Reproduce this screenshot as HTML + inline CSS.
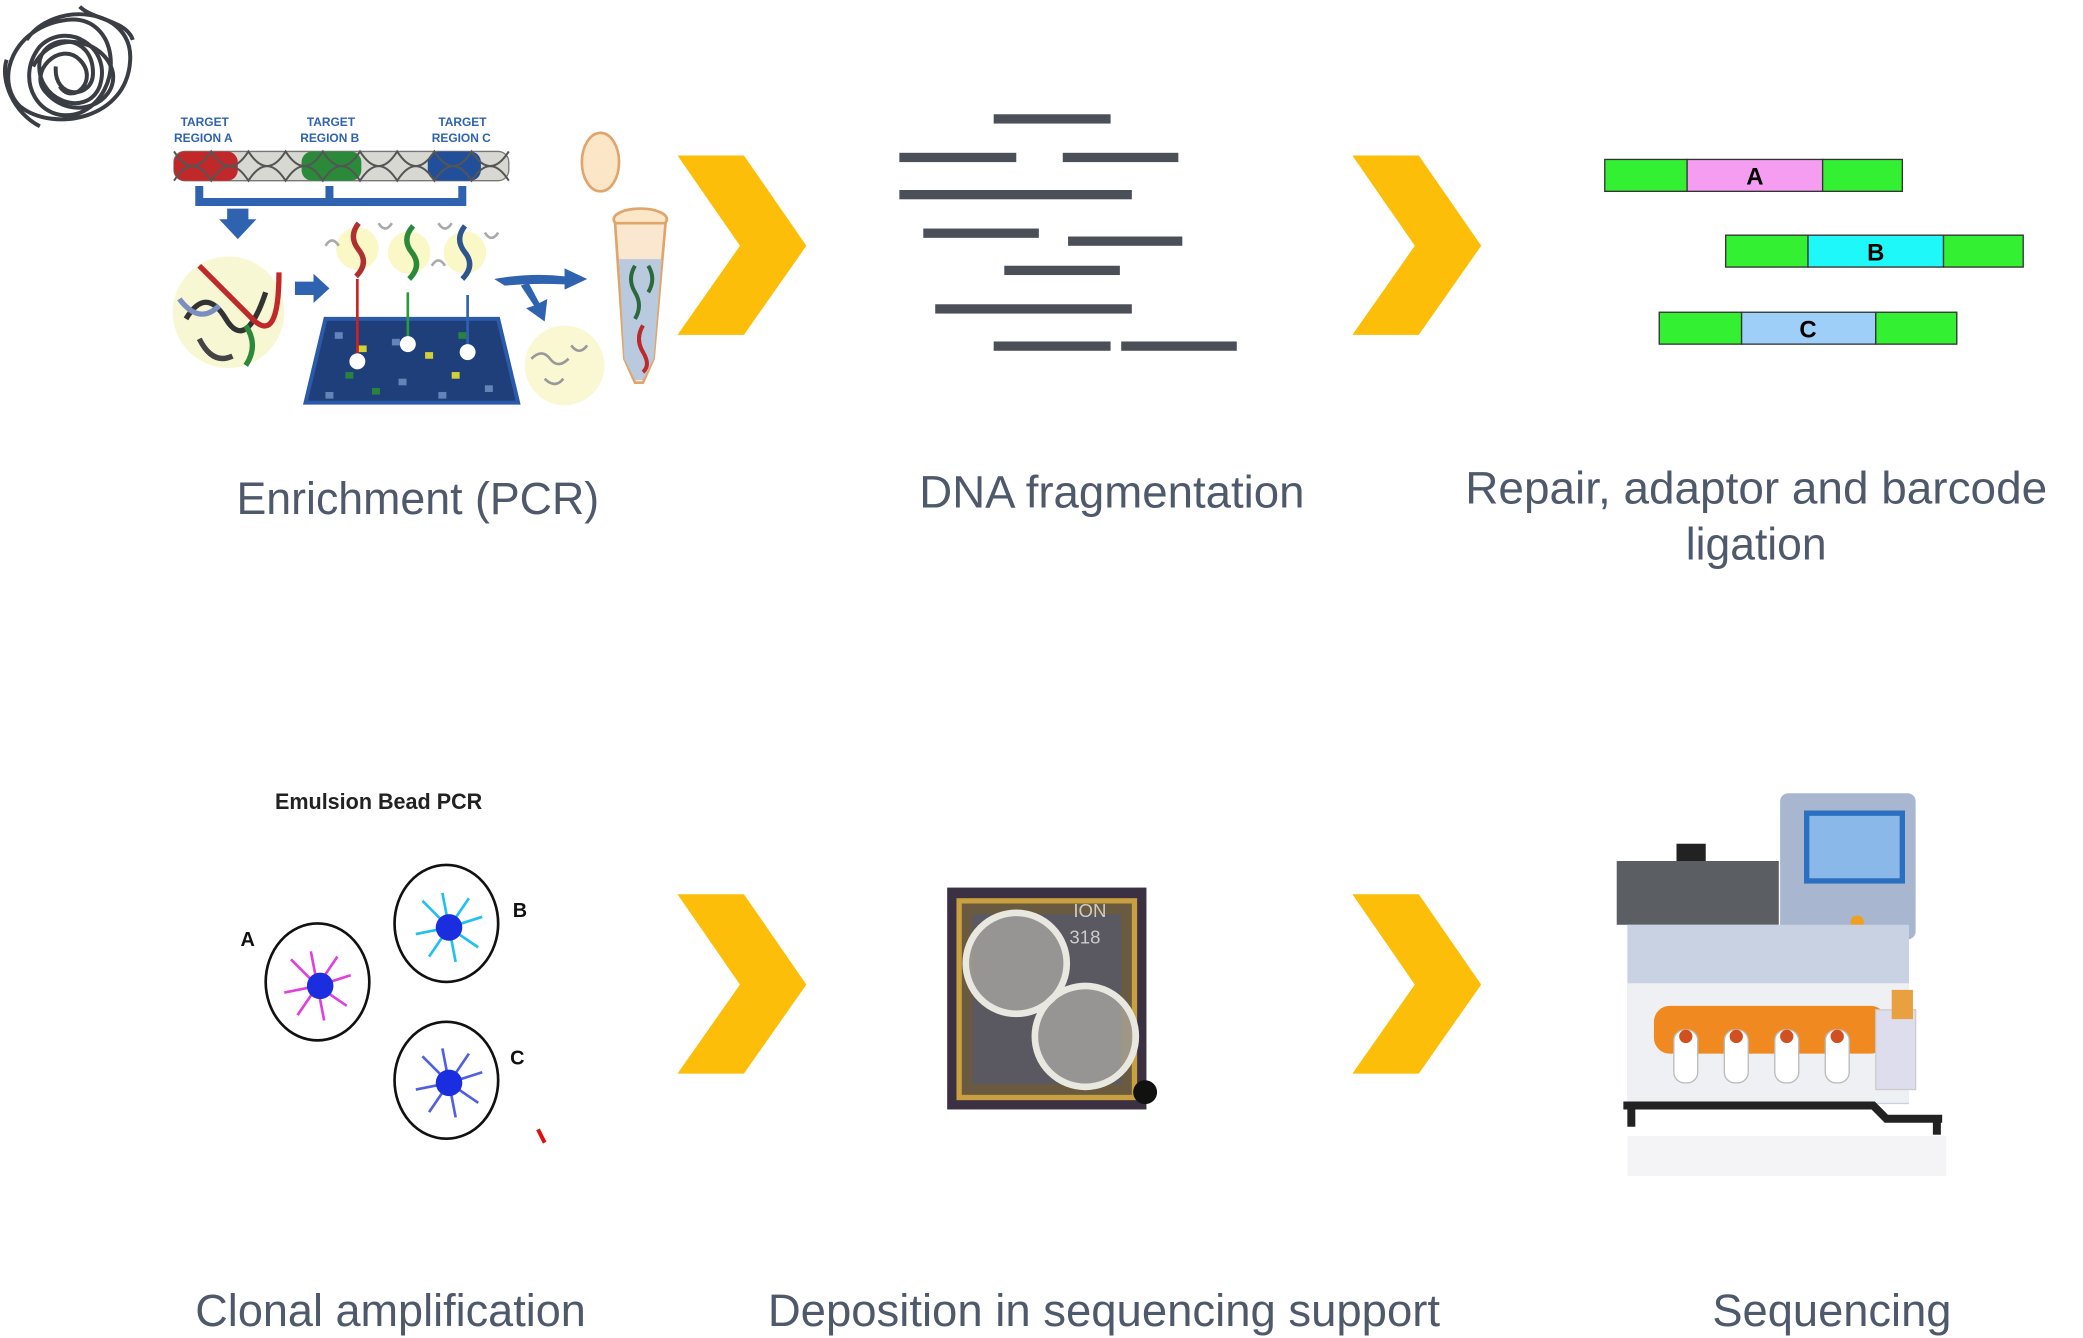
<!DOCTYPE html>
<html><head><meta charset="utf-8"><style>
html,body{margin:0;padding:0;background:#fff;}
svg{display:block;}
text{font-family:"Liberation Sans",sans-serif;}
</style></head><body>
<svg width="2083" height="1338" viewBox="0 0 1568 1007" preserveAspectRatio="none" xmlns="http://www.w3.org/2000/svg">
<rect width="1568" height="1008" fill="#fff"/>
<!-- scribble -->
<g fill="none" stroke="#3a3d44" stroke-width="3">
<path d="M20,30 C40,0 100,5 98,45 C96,90 40,100 15,80 C-5,60 10,20 50,15 C90,10 95,70 60,85 C30,95 10,60 30,35 C50,15 85,35 75,65 C65,90 25,75 30,45 C35,25 70,25 70,55 C70,75 40,75 42,50"/>
<path d="M25,50 C40,20 80,30 85,55 C88,78 55,92 35,70 C20,55 45,30 60,45 C75,60 55,80 45,65"/>
<path d="M60,5 C70,15 95,15 100,30 M5,45 C0,60 10,85 30,95"/>
</g>
<!-- PCR illustration -->
<g font-family="Liberation Sans" font-weight="bold" font-size="9" fill="#2f63b0">
<text x="136" y="95">TARGET</text><text x="131" y="107">REGION A</text>
<text x="231" y="95">TARGET</text><text x="226" y="107">REGION B</text>
<text x="330" y="95">TARGET</text><text x="325" y="107">REGION C</text>
</g>
<rect x="131" y="114" width="252" height="22" rx="8" fill="#d8d8d2" stroke="#777" stroke-width="1"/>
<rect x="131" y="114" width="48" height="22" rx="8" fill="#c0282a"/>
<rect x="227" y="114" width="45" height="22" rx="8" fill="#2a8a3a"/>
<rect x="322" y="114" width="40" height="22" rx="8" fill="#224f9a"/>
<g stroke="#555" stroke-width="1.5" fill="none">
<path d="M131,114 Q145,136 159,114 Q173,136 187,114 Q201,136 215,114 Q229,136 243,114 Q257,136 271,114 Q285,136 299,114 Q313,136 327,114 Q341,136 355,114 Q369,136 383,114"/>
<path d="M131,136 Q145,114 159,136 Q173,114 187,136 Q201,114 215,136 Q229,114 243,136 Q257,114 271,136 Q285,114 299,136 Q313,114 327,136 Q341,114 355,136 Q369,114 383,136"/>
</g>
<path d="M150,140 L150,152 L348,152 L348,140 M248,140 L248,152" fill="none" stroke="#2f63b0" stroke-width="6"/>
<path d="M171,157 L171,165 L165,165 L179,180 L193,165 L187,165 L187,157 Z" fill="#2f63b0"/>
<circle cx="172" cy="235" r="42" fill="#f6f5c8" opacity="0.8"/>
<g fill="none" stroke-width="4">
<path d="M140,240 Q155,215 170,240 T200,220" stroke="#333"/>
<path d="M150,200 Q170,220 190,240 T210,205" stroke="#c0282a"/>
<path d="M135,225 Q150,245 165,230" stroke="#7a8fbf"/>
<path d="M185,245 Q195,260 185,275" stroke="#2a8a3a"/>
<path d="M150,255 Q160,275 175,268" stroke="#444"/>
</g>
<path d="M222,212 L236,212 L236,206 L248,217 L236,228 L236,222 L222,222 Z" fill="#2f63b0"/>
<circle cx="269" cy="187" r="16" fill="#fbf8c8"/><circle cx="308" cy="190" r="16" fill="#fbf8c8"/><circle cx="350" cy="190" r="16" fill="#fbf8c8"/>
<g fill="none" stroke-width="4">
<path d="M270,168 Q262,178 270,188 Q278,198 268,208" stroke="#b03030"/>
<path d="M311,170 Q302,180 310,190 Q318,200 308,210" stroke="#2a8a3a"/>
<path d="M350,170 Q342,180 350,190 Q358,200 348,210" stroke="#2f5590"/>
</g>
<g fill="none" stroke="#aaa" stroke-width="2">
<path d="M245,185 q5,-8 10,0 M285,168 q5,8 10,0 M325,200 q5,-8 10,0 M365,175 q5,8 10,0 M330,168 q5,8 10,0"/>
</g>
<path d="M245,240 L375,240 L390,303 L230,303 Z" fill="#1e3f7a" stroke="#2a5aa8" stroke-width="3"/>
<g fill="#6a8cc0" opacity="0.9">
<rect x="252" y="250" width="6" height="5"/><rect x="270" y="260" width="6" height="5" fill="#e8e030"/><rect x="295" y="255" width="6" height="5"/><rect x="320" y="265" width="6" height="5" fill="#e8e030"/><rect x="345" y="250" width="6" height="5" fill="#2a8a3a"/><rect x="260" y="280" width="6" height="5" fill="#2a8a3a"/><rect x="300" y="285" width="6" height="5"/><rect x="340" y="280" width="6" height="5" fill="#e8e030"/><rect x="365" y="290" width="6" height="5"/><rect x="280" y="292" width="6" height="5" fill="#2a8a3a"/><rect x="245" y="295" width="6" height="5"/><rect x="330" y="295" width="6" height="5"/>
</g>
<line x1="269" y1="210" x2="269" y2="275" stroke="#d02020" stroke-width="2"/>
<line x1="307" y1="220" x2="307" y2="262" stroke="#2a9a3a" stroke-width="2"/>
<line x1="352" y1="222" x2="352" y2="266" stroke="#2f63b0" stroke-width="2"/>
<circle cx="269" cy="272" r="6" fill="#fff"/><circle cx="307" cy="259" r="6" fill="#fff"/><circle cx="352" cy="265" r="6" fill="#fff"/>
<path d="M372,210 Q400,205 425,208 L425,202 L442,210 L425,218 L425,214 Q400,213 380,215 Z" fill="#2f63b0"/>
<path d="M392,215 L402,230 L396,232 L410,242 L412,225 L406,228 L398,213 Z" fill="#2f63b0"/>
<circle cx="425" cy="275" r="30" fill="#f8f6c8" opacity="0.8"/>
<path d="M400,270 q8,-8 14,0 t14,0 M410,285 q8,8 14,0 M430,260 q6,8 12,0" fill="none" stroke="#999" stroke-width="2"/>
<!-- tube -->
<ellipse cx="452" cy="122" rx="14" ry="22" fill="#fbe6c8" stroke="#e0a56a" stroke-width="2"/>
<ellipse cx="482" cy="165" rx="20" ry="8" fill="#fbe6c8" stroke="#e0a56a" stroke-width="2"/>
<path d="M463,168 L501,168 L492,270 L484,288 L478,288 L470,270 Z" fill="#fbe6cf" stroke="#e0a56a" stroke-width="2"/>
<path d="M466,195 L498,195 L492,270 L484,286 L478,286 L470,270 Z" fill="#b9c9de"/>
<path d="M478,200 q-6,10 0,20 t0,20 M488,200 q6,10 0,20 M484,245 q-6,10 0,20" fill="none" stroke="#2a6a3a" stroke-width="3"/>
<path d="M484,245 q-6,10 0,20 t0,15" fill="none" stroke="#c0282a" stroke-width="3"/>
<!-- chevrons -->
<g fill="#fdbe0a">
<polygon points="510,117 560,117 607,185 560,252 510,252 557,185"/>
<polygon points="1018,117 1068,117 1115,185 1068,252 1018,252 1065,185"/>
<polygon points="510,673 560,673 607,741 560,808 510,808 557,741"/>
<polygon points="1018,673 1068,673 1115,741 1068,808 1018,808 1065,741"/>
</g>
<!-- fragments -->
<g fill="#4b4f57">
<rect x="748" y="86" width="88" height="7"/>
<rect x="677" y="115" width="88" height="7"/><rect x="800" y="115" width="87" height="7"/>
<rect x="677" y="143" width="175" height="7"/>
<rect x="695" y="172" width="87" height="7"/><rect x="804" y="178" width="86" height="7"/>
<rect x="756" y="200" width="87" height="7"/>
<rect x="704" y="229" width="148" height="7"/>
<rect x="748" y="257" width="88" height="7"/><rect x="844" y="257" width="87" height="7"/>
</g>
<!-- adaptor bars -->
<g stroke="#333" stroke-width="1">
<rect x="1208" y="120" width="62" height="24" fill="#33f033"/><rect x="1270" y="120" width="102" height="24" fill="#f59df0"/><rect x="1372" y="120" width="60" height="24" fill="#33f033"/>
<rect x="1299" y="177" width="62" height="24" fill="#33f033"/><rect x="1361" y="177" width="102" height="24" fill="#1ff8f8"/><rect x="1463" y="177" width="60" height="24" fill="#33f033"/>
<rect x="1249" y="235" width="62" height="24" fill="#33f033"/><rect x="1311" y="235" width="101" height="24" fill="#9dcff8"/><rect x="1412" y="235" width="61" height="24" fill="#33f033"/>
</g>
<g font-size="18" font-weight="bold" fill="#000" text-anchor="middle">
<text x="1321" y="139">A</text><text x="1412" y="196">B</text><text x="1361" y="254">C</text>
</g>
<!-- labels -->
<g fill="#4e5a6b" font-size="34">
<text x="178" y="387" textLength="273" lengthAdjust="spacingAndGlyphs">Enrichment (PCR)</text>
<text x="692" y="382" textLength="290" lengthAdjust="spacingAndGlyphs">DNA fragmentation</text>
<text x="1103" y="379" textLength="438" lengthAdjust="spacingAndGlyphs">Repair, adaptor and barcode</text>
<text x="1269" y="421" textLength="106" lengthAdjust="spacingAndGlyphs">ligation</text>
<text x="147" y="998" textLength="294" lengthAdjust="spacingAndGlyphs">Clonal amplification</text>
<text x="578" y="998" textLength="506" lengthAdjust="spacingAndGlyphs">Deposition in sequencing support</text>
<text x="1289" y="998" textLength="180" lengthAdjust="spacingAndGlyphs">Sequencing</text>
</g>
<!-- emulsion -->
<text x="207" y="609" font-size="17" font-weight="bold" fill="#222" textLength="156" lengthAdjust="spacingAndGlyphs">Emulsion Bead PCR</text>
<g stroke="#111" stroke-width="2" fill="#fff">
<ellipse cx="239" cy="739" rx="39" ry="44"/><ellipse cx="336" cy="695" rx="39" ry="44"/><ellipse cx="336" cy="813" rx="39" ry="44"/>
</g>
<g fill="none" stroke-width="2">
<path d="M239,742 l-20,-20 M239,742 l-25,5 M239,742 l-15,22 M239,742 l5,26 M239,742 l22,15 M239,742 l25,-8 M239,742 l15,-22 M239,742 l-5,-26" stroke="#e040e0"/>
<path d="M338,698 l-20,-20 M338,698 l-25,5 M338,698 l-15,22 M338,698 l5,26 M338,698 l22,15 M338,698 l25,-8 M338,698 l15,-22 M338,698 l-5,-26" stroke="#20c0f0"/>
<path d="M338,815 l-20,-20 M338,815 l-25,5 M338,815 l-15,22 M338,815 l5,26 M338,815 l22,15 M338,815 l25,-8 M338,815 l15,-22 M338,815 l-5,-26" stroke="#5060e0"/>
</g>
<circle cx="241" cy="742" r="10" fill="#1a2ee0"/><circle cx="338" cy="698" r="10" fill="#1a2ee0"/><circle cx="338" cy="815" r="10" fill="#1a2ee0"/>
<g font-size="15" font-weight="bold" fill="#111"><text x="181" y="712">A</text><text x="386" y="690">B</text><text x="384" y="801">C</text></g>
<path d="M405,850 L410,860" stroke="#e01010" stroke-width="3"/>
<!-- chip -->
<rect x="713" y="668" width="150" height="167" fill="#3b3142"/>
<rect x="722" y="678" width="132" height="148" fill="#6a5a40" stroke="#c8a040" stroke-width="4"/>
<rect x="732" y="688" width="112" height="128" fill="#5a5860"/>
<circle cx="765" cy="725" r="38" fill="#c8c8c0" fill-opacity="0.55" stroke="#e8e8e0" stroke-width="5"/>
<circle cx="817" cy="780" r="38" fill="#c8c8c0" fill-opacity="0.55" stroke="#e8e8e0" stroke-width="5"/>
<text x="808" y="690" font-size="14" fill="#ccc">ION</text>
<text x="805" y="710" font-size="14" fill="#ccc">318</text>
<circle cx="862" cy="822" r="9" fill="#111"/>
<!-- sequencer -->
<rect x="1340" y="597" width="102" height="110" rx="6" fill="#a9b6cf"/>
<rect x="1358" y="610" width="76" height="55" fill="#2a6fc0"/>
<rect x="1362" y="614" width="68" height="47" fill="#8ab8e8"/>
<circle cx="1398" cy="694" r="5" fill="#f0a020"/>
<rect x="1262" y="635" width="22" height="14" fill="#222"/>
<rect x="1217" y="648" width="122" height="48" fill="#5b5e63"/>
<rect x="1225" y="696" width="212" height="135" fill="#c9d2e2"/>
<rect x="1225" y="740" width="212" height="90" fill="#eef0f3"/>
<rect x="1245" y="757" width="175" height="36" rx="12" fill="#f08a20"/>
<g fill="#fff" stroke="#bbb"><rect x="1260" y="775" width="18" height="40" rx="8"/><rect x="1298" y="775" width="18" height="40" rx="8"/><rect x="1336" y="775" width="18" height="40" rx="8"/><rect x="1374" y="775" width="18" height="40" rx="8"/></g>
<g fill="#d05020"><circle cx="1269" cy="780" r="5"/><circle cx="1307" cy="780" r="5"/><circle cx="1345" cy="780" r="5"/><circle cx="1383" cy="780" r="5"/></g>
<rect x="1412" y="760" width="30" height="60" fill="#dde" stroke="#ccc"/>
<rect x="1424" y="745" width="16" height="22" fill="#e8a040"/>
<path d="M1222,832 L1410,832 L1420,842 L1462,842" stroke="#222" stroke-width="6" fill="none"/>
<rect x="1225" y="832" width="6" height="16" fill="#222"/><rect x="1455" y="842" width="6" height="12" fill="#222"/>
<rect x="1225" y="855" width="240" height="30" fill="#f4f4f6"/>
</svg>
</body></html>
